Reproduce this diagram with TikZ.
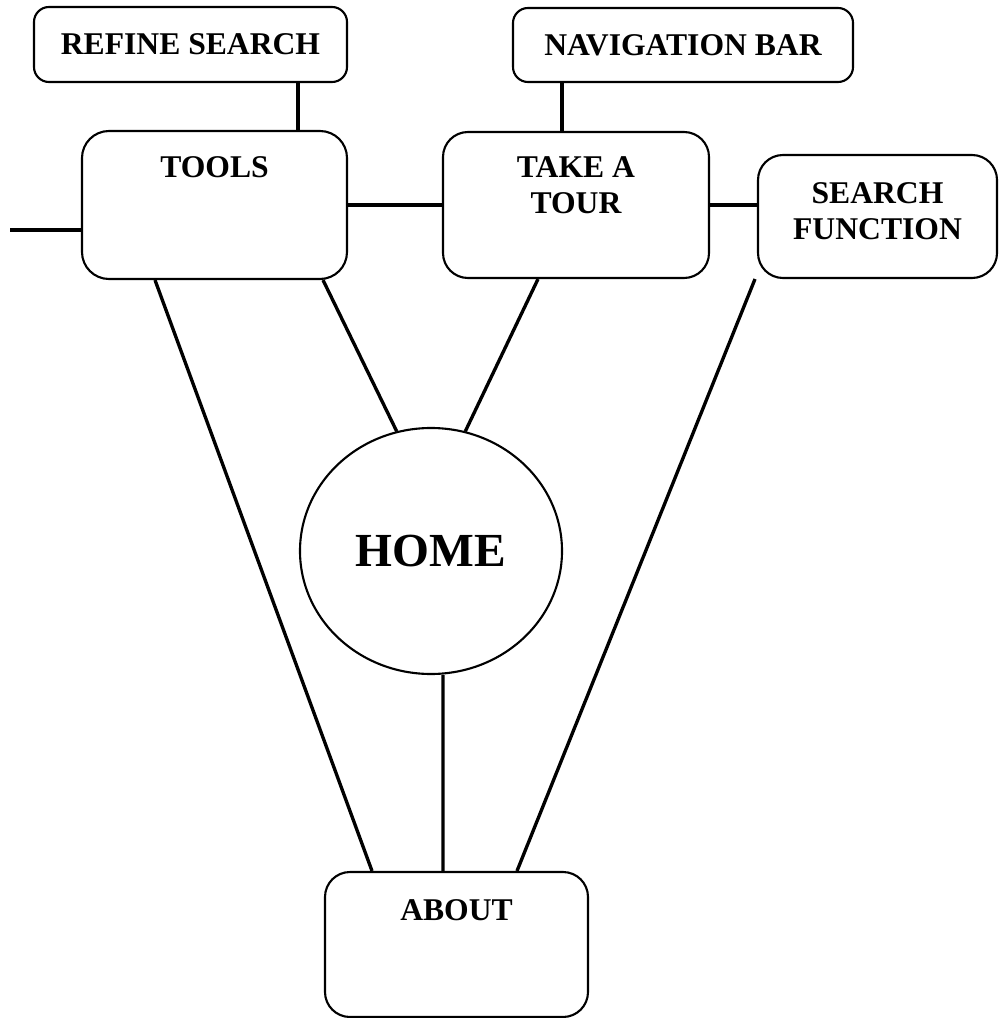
\documentclass[tikz,border=0pt]{standalone}
\usepackage{fontspec}
\setmainfont{Liberation Serif}
\usetikzlibrary{positioning,shapes.geometric}

\begin{document}
\begin{tikzpicture}[node distance=1cm,
    pagebox/.style={draw,line width=1.2pt,rounded corners=0.5cm,inner sep=0pt},
    boxtext/.style={inner sep=0pt,align=center,font=\bfseries\fontsize{18}{20.5}\selectfont},
    link/.style={line width=1.9pt}]
    \useasboundingbox (0,0) rectangle (19.98,-20.36);
    % top row
    \node[pagebox,rounded corners=0.3cm,minimum width=6.26cm,minimum height=1.5cm,font=\bfseries\fontsize{18}{20.5}\selectfont] (refine) at (3.81,-0.89) {REFINE SEARCH};
    \node[pagebox,rounded corners=0.3cm,minimum width=6.8cm,minimum height=1.48cm,font=\bfseries\fontsize{18}{20.5}\selectfont] (nav) at (13.66,-0.90) {NAVIGATION BAR};
    % second row
    \node[pagebox,rounded corners=0.54cm,minimum width=5.3cm,minimum height=2.96cm] (tools) at (4.29,-4.10) {};
    \node[boxtext,below=0.52cm of tools.north] (toolstext) {TOOLS};
    \node[pagebox,minimum width=5.32cm,minimum height=2.92cm] (tour) at (11.52,-4.10) {};
    \node[boxtext,below=0.5cm of tour.north] (tourtext) {TAKE A\\TOUR};
    \node[pagebox,minimum width=4.78cm,minimum height=2.46cm] (search) at (17.55,-4.33) {};
    \node[boxtext,below=0.56cm of search.north] (searchtext) {SEARCH\\FUNCTION};
    % centre and bottom
    \node[draw,ellipse,line width=1.2pt,minimum width=5.24cm,minimum height=4.92cm,font=\bfseries\fontsize{27}{30}\selectfont] (home) at (8.62,-11.02) {HOME};
    \node[pagebox,minimum width=5.26cm,minimum height=2.9cm] (about) at (9.13,-18.89) {};
    \node[boxtext,below=0.56cm of about.north] (abouttext) {ABOUT};
    % links
    \coordinate (stub) at (0.2,-4.6);
    \draw[link,line width=2.3pt] (stub) -- (stub -| tools.west);
    \draw[link] ([xshift=2.15cm]refine.south) -- ++(0,-0.98);
    \draw[link] ([xshift=-2.42cm]nav.south) -- ++(0,-1.0);
    \draw[link] (tools.east) -- (tour.west);
    \draw[link] (tour.east) -- (tour.east -| search.west);
    \draw[link] ([xshift=2.17cm]tools.south) -- (home.106);
    \draw[link] ([xshift=-0.76cm]tour.south) -- (home.74);
    \draw[link] ([xshift=-1.19cm]tools.south) -- ([xshift=-1.69cm]about.north);
    \draw[link] ([xshift=-2.45cm]search.south) -- ([xshift=1.21cm]about.north);
    \draw[link] ([xshift=0.24cm]home.south) -- ([xshift=-0.27cm]about.north);
\end{tikzpicture}
\end{document}
